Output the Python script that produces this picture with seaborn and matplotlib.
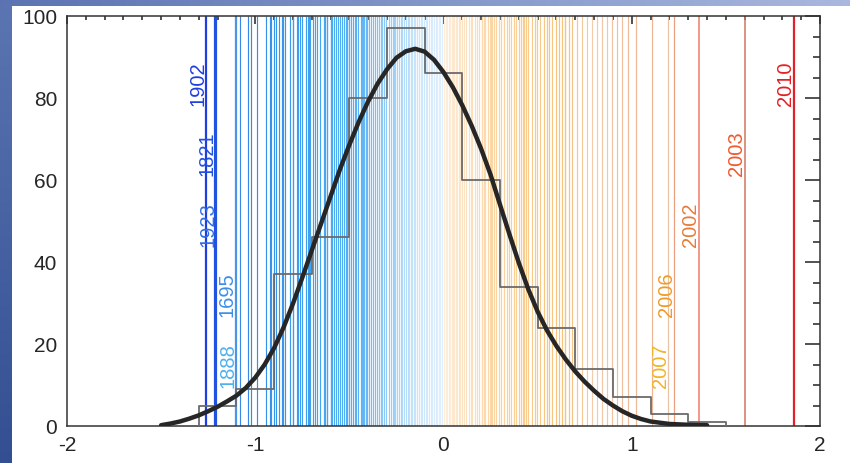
import numpy as np
import matplotlib
matplotlib.use("Agg")
import matplotlib.pyplot as plt
import seaborn as sns
from matplotlib.colors import LinearSegmentedColormap, Normalize
from matplotlib.ticker import MultipleLocator

sns.set_style("white")
plt.rcParams["font.family"] = ["Liberation Sans", "DejaVu Sans"]
plt.rcParams["axes.unicode_minus"] = False

# ====================== DATA ======================
# histogram of yearly anomalies, 0.2 wide bins
bin_edges = [-1.3, -1.1, -0.9, -0.7, -0.5, -0.3, -0.1, 0.1, 0.3, 0.5, 0.7, 0.9, 1.1, 1.3, 1.5]
bin_counts = [5, 9, 37, 46, 80, 97, 86, 60, 34, 24, 14, 7, 3, 1]

# fitted curve
curve_x = [-1.50, -1.45, -1.40, -1.35, -1.30, -1.25, -1.20, -1.15, -1.10, -1.05,
           -1.00, -0.95, -0.90, -0.85, -0.80, -0.75, -0.70, -0.65, -0.60, -0.55,
           -0.50, -0.45, -0.40, -0.35, -0.30, -0.25, -0.20, -0.15, -0.10, -0.05,
           0.00, 0.05, 0.10, 0.15, 0.20, 0.25, 0.30, 0.35, 0.40, 0.45,
           0.50, 0.55, 0.60, 0.65, 0.70, 0.75, 0.80, 0.85, 0.90, 0.95,
           1.00, 1.05, 1.10, 1.20, 1.30, 1.40]
curve_y = [0.2, 0.6, 1.1, 1.8, 2.6, 3.6, 4.7, 6.0, 7.4, 9.3,
           11.8, 15.0, 19.0, 24.0, 29.8, 36.2, 42.8, 49.4, 56.0, 62.6,
           68.6, 74.2, 79.2, 83.5, 87.0, 89.8, 91.4, 92.0, 91.3, 89.3,
           86.3, 82.6, 78.2, 73.2, 67.6, 61.3, 54.0, 46.8, 39.8, 33.4,
           27.9, 23.3, 19.5, 16.2, 13.3, 10.8, 8.6, 6.6, 5.0, 3.6,
           2.5, 1.7, 1.1, 0.5, 0.3, 0.2]

# single years drawn as thin stripes
cold_years = [-1.08, -1.04, -1.02, -0.99, -0.945, -0.92, -0.918, -0.90, -0.89, -0.875,
              -0.86, -0.855, -0.84, -0.815, -0.80, -0.797, -0.776, -0.772, -0.76, -0.75,
              -0.732, -0.72, -0.716, -0.709, -0.693, -0.68, -0.67, -0.655, -0.636, -0.632,
              -0.62, -0.617, -0.60, -0.596, -0.591, -0.58, -0.573, -0.56, -0.55, -0.54,
              -0.529, -0.52, -0.511, -0.504, -0.50, -0.493, -0.48, -0.472, -0.465, -0.455,
              -0.44, -0.431, -0.427, -0.42, -0.414, -0.41, -0.405, -0.396, -0.385, -0.373,
              -0.365, -0.352, -0.345, -0.334, -0.325, -0.317, -0.305, -0.29, -0.28, -0.27,
              -0.264, -0.255, -0.245, -0.237, -0.225, -0.218, -0.211, -0.20, -0.19, -0.184,
              -0.175, -0.165, -0.158, -0.15, -0.14, -0.131, -0.12, -0.112, -0.105, -0.095,
              -0.085, -0.077, -0.069, -0.06, -0.05, -0.042, -0.033, -0.025, -0.016, -0.008]
warm_years = [0.005, 0.012, 0.019, 0.027, 0.035, 0.043, 0.05, 0.058, 0.066, 0.073,
              0.082, 0.09, 0.10, 0.11, 0.12, 0.134, 0.145, 0.152, 0.165, 0.179,
              0.19, 0.205, 0.207, 0.215, 0.223, 0.235, 0.249, 0.252, 0.258, 0.267,
              0.28, 0.294, 0.305, 0.32, 0.335, 0.347, 0.36, 0.373, 0.387, 0.40,
              0.413, 0.422, 0.426, 0.437, 0.447, 0.47, 0.485, 0.497, 0.515, 0.532,
              0.55, 0.563, 0.577, 0.599, 0.615, 0.63, 0.644, 0.648, 0.665, 0.683,
              0.709, 0.736, 0.762, 0.789, 0.815, 0.842, 0.868, 0.895, 0.921, 0.948,
              0.98, 1.02, 1.107]

# labelled extreme years
cold_labels = ["1902", "1821", "1923", "1695", "1888"]
cold_values = [-1.26, -1.212, -1.208, -1.11, -1.10]
warm_labels = ["2010", "2003", "2002", "2006", "2007"]
warm_values = [1.86, 1.60, 1.355, 1.225, 1.195]

# ====================== STYLE ======================
cold_text_colors = ["#1f3ee0", "#2152e0", "#2f6ee2", "#3d8fe8", "#4fb0f0"]
warm_text_colors = ["#e41f22", "#f2582c", "#e67c3a", "#f09a28", "#f2b326"]
cold_line_colors = ["#1f3ee0", "#2152e0", "#2152e0", "#4a95e6", "#4a95e6"]
warm_line_colors = ["#e0202a", "#d07560", "#f07a6a", "#eda080", "#e8c4a4"]
cold_line_widths = [1.6, 1.6, 1.6, 0.9, 0.9]
warm_line_widths = [1.6, 1.1, 1.1, 0.9, 0.9]

stripe_cmap = LinearSegmentedColormap.from_list("stripes", [
    (0.00, "#1438d8"), (0.0625, "#3a86e4"), (0.109, "#3590ea"), (0.1875, "#40a2ef"),
    (0.266, "#5cb2f3"), (0.3125, "#94cbf6"), (0.359, "#c8e4fa"), (0.406, "#e2f0fc"),
    (0.4063, "#fdeedd"), (0.4375, "#fde4c6"), (0.484, "#fbd6a6"), (0.547, "#f9cb8c"),
    (0.609, "#f7c27a"), (0.656, "#f4ccaa"), (0.719, "#efb898"), (1.00, "#e8a080")])
stripe_norm = Normalize(vmin=-1.3, vmax=1.9)

fig = plt.figure(figsize=(8.5, 4.63), dpi=100)

# slide background strips (left edge and top edge)
left_strip = np.linspace([0.36, 0.46, 0.70], [0.20, 0.31, 0.57], 463)[:, None, :] * np.ones((1, 12, 1))
fig.figimage(left_strip, xo=0, yo=0, origin="upper", zorder=-5)
top_strip = np.linspace([0.36, 0.45, 0.70], [0.66, 0.72, 0.87], 850)[None, :, :] * np.ones((6, 1, 1))
fig.figimage(top_strip, xo=0, yo=457, origin="upper", zorder=-5)

ax = fig.add_axes([67 / 850, 37 / 463, 753 / 850, 410 / 463])
ax.set_facecolor("white")

# thin stripes for every year
all_years = np.array(cold_years + warm_years)
ax.vlines(all_years, 0, 1, transform=ax.get_xaxis_transform(),
          colors=stripe_cmap(stripe_norm(all_years)), linewidth=0.85, zorder=1)

# labelled years: stronger lines + rotated year labels
ax.vlines(cold_values + warm_values, 0, 1, transform=ax.get_xaxis_transform(),
          colors=cold_line_colors + warm_line_colors,
          linewidth=cold_line_widths + warm_line_widths, zorder=2)
for group_labels, group_values, group_colors in [(cold_labels, cold_values, cold_text_colors),
                                                 (warm_labels, warm_values, warm_text_colors)]:
    for rank, (lab, val, col) in enumerate(zip(group_labels, group_values, group_colors)):
        ax.text(val + 0.008, 78.1 - 17.2 * rank, lab, rotation=90, ha="right", va="bottom",
                color=col, fontsize=14.5, zorder=3)

# histogram outline
bin_centers = [(a + b) / 2 for a, b in zip(bin_edges[:-1], bin_edges[1:])]
sns.histplot(x=bin_centers, weights=bin_counts, bins=bin_edges, element="step",
             fill=False, color="#6b6b6b", linewidth=1.3, ax=ax, zorder=4)
ax.vlines([bin_edges[0], bin_edges[-1]], 0, [bin_counts[0], bin_counts[-1]],
          color="#6b6b6b", linewidth=1.3, zorder=4)

# fitted curve
sns.lineplot(x=curve_x, y=curve_y, color="#262626", linewidth=3.2, ax=ax, zorder=5)

ax.set_xlim(-2, 2)
ax.set_ylim(0, 100)
ax.set_xticks([-2, -1, 0, 1, 2])
ax.set_yticks(range(0, 101, 20))
ax.xaxis.set_minor_locator(MultipleLocator(0.1))
ax.yaxis.set_minor_locator(MultipleLocator(5))
ax.tick_params(which="both", direction="in", top=True, right=True, width=1.1,
               color="#222222", labelsize=15, pad=7)
ax.tick_params(axis="x", which="major", length=6)
ax.tick_params(axis="x", which="minor", length=3)
ax.tick_params(axis="y", which="major", length=10.5)
ax.tick_params(axis="y", which="minor", length=5)
ax.set_xlabel("")
ax.set_ylabel("")
for side in ax.spines.values():
    side.set_linewidth(1.1)
    side.set_color("#333333")

fig.savefig("out.png", dpi=100)
